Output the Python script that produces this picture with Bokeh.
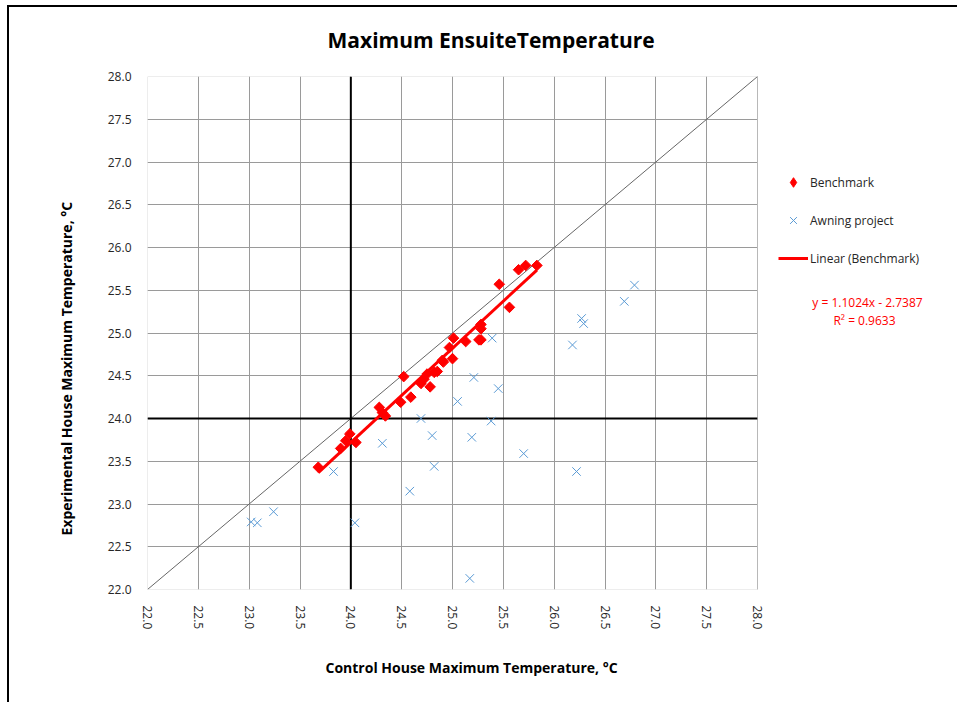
import math
from bokeh.plotting import figure
from bokeh.models import (Range1d, FixedTicker, PrintfTickFormatter, Span, Slope,
                          Legend, LegendItem, Label, Title, BoxAnnotation)
from bokeh.embed import file_html
from bokeh.resources import INLINE

# ---------------- data ----------------
bench_x = [23.68, 23.90, 23.95, 23.99, 24.05, 24.28, 24.31, 24.34, 24.49, 24.52,
           24.59, 24.69, 24.72, 24.75, 24.78, 24.82, 24.85, 24.90, 24.91, 25.00,
           24.97, 25.01, 25.13, 25.26, 25.28, 25.28, 25.28, 25.46, 25.56, 25.65,
           25.72, 25.83]
bench_y = [23.43, 23.65, 23.74, 23.82, 23.72, 24.13, 24.07, 24.03, 24.19, 24.49,
           24.25, 24.41, 24.46, 24.52, 24.37, 24.54, 24.55, 24.68, 24.66, 24.70,
           24.83, 24.94, 24.90, 24.92, 24.92, 25.05, 25.10, 25.57, 25.30, 25.74,
           25.79, 25.79]

awn_x = [23.02, 23.08, 23.24, 23.83, 24.04, 24.31, 24.58, 24.69, 24.80, 24.82,
         25.05, 25.17, 25.21, 25.19, 25.45, 25.38, 25.70, 26.22, 25.39, 26.79,
         26.69, 26.27, 26.29, 26.18]
awn_y = [22.79, 22.78, 22.91, 23.38, 22.78, 23.71, 23.15, 24.00, 23.80, 23.44,
         24.20, 22.13, 24.48, 23.78, 24.35, 23.97, 23.59, 23.38, 24.94, 25.56,
         25.37, 25.17, 25.11, 24.86]

trend_slope = 1.1024
trend_intercept = -2.7387
r_squared = 0.9633

axis_ticks = [22.0, 22.5, 23.0, 23.5, 24.0, 24.5, 25.0, 25.5, 26.0, 26.5, 27.0, 27.5, 28.0]
axis_min, axis_max = 22.0, 28.0
ref_value = 24.0

title_text = "Maximum EnsuiteTemperature"
x_label = "Control House Maximum Temperature, °C"
y_label = "Experimental House Maximum Temperature, °C"

FONT = "Open Sans"
RED = "#ff0000"
BLUE = "#5b9bd5"
GRID = "#9a9a9a"

# ---------------- layout (pixels) ----------------
FIG_W, FIG_H = 957, 702
PLOT_L, PLOT_T, PLOT_W, PLOT_H = 147, 76, 610, 513
# the frame is extended to the right edge so legend/equation are inside it
x_end = axis_min + (FIG_W - PLOT_L) * (axis_max - axis_min) / PLOT_W

border_css = ("linear-gradient(black, black) 7px 5px / 2px 100% no-repeat, "
              "linear-gradient(black, black) 7px 5px / 100% 2px no-repeat, white")

p = figure(width=FIG_W, height=FIG_H, output_backend="svg", toolbar_location=None,
           x_range=Range1d(axis_min, x_end), y_range=Range1d(axis_min, axis_max),
           min_border_left=PLOT_L, min_border_right=0, min_border_top=PLOT_T,
           min_border_bottom=FIG_H - PLOT_T - PLOT_H,
           styles={"background": border_css})
p.background_fill_color = "white"
p.border_fill_alpha = 0
p.outline_line_color = None

# title
p.title.text = title_text
p.title.align = "left"
p.title.offset = 180
p.title.vertical_align = "top"
p.title.standoff = 41
p.title.text_font = FONT
p.title.text_font_style = "bold"
p.title.text_font_size = "21px"
p.title.text_color = "black"

for ax in (p.xaxis[0], p.yaxis[0]):
    ax.ticker = FixedTicker(ticks=axis_ticks)
    ax.formatter = PrintfTickFormatter(format="%.1f")
    ax.major_tick_line_color = None
    ax.minor_tick_line_color = None
    ax.axis_line_color = None
    ax.major_label_text_font = FONT
    ax.major_label_text_font_size = "12px"
    ax.major_label_text_color = "#262626"
    ax.major_label_standoff = 10

p.xaxis[0].major_label_orientation = -math.pi / 2

for g in (p.xgrid[0], p.ygrid[0]):
    g.ticker = FixedTicker(ticks=axis_ticks)
    g.grid_line_color = GRID
    g.grid_line_width = 1

# axis titles as side-panel titles (precise placement)
p.add_layout(Title(text=x_label, align="left", offset=178, vertical_align="bottom",
                   standoff=47, text_font=FONT, text_font_style="bold",
                   text_font_size="14px", text_color="black"), "below")
p.add_layout(Title(text=y_label, align="left", offset=54, vertical_align="top",
                   standoff=53, text_font=FONT, text_font_style="bold",
                   text_font_size="14px", text_color="black"), "left")

# reference lines
p.add_layout(Slope(gradient=1, y_intercept=0, line_color="#666666", line_width=1,
                   level="underlay"))
p.add_layout(Span(location=ref_value, dimension="height", line_color="black",
                  line_width=2, level="underlay"))
p.add_layout(Span(location=ref_value, dimension="width", line_color="black",
                  line_width=2, level="underlay"))

# data
r_awn = p.scatter(awn_x, awn_y, marker="x", size=12, line_color=BLUE, line_width=1)
tx = [min(bench_x), max(bench_x)]
ty = [trend_slope * v + trend_intercept for v in tx]
# diamond key for the legend (sits hidden under the first benchmark marker;
# legend glyphs ignore the marker angle used below)
r_bench_key = p.scatter(bench_x[:1], bench_y[:1], marker="diamond", size=9,
                        fill_color=RED, line_color=RED)
r_bench = p.scatter(bench_x, bench_y, marker="square", angle=math.pi / 4, size=7.5,
                    fill_color=RED, line_color=RED)
r_trend = p.line(tx, ty, line_color=RED, line_width=3)

# white mask right of the plot area, then plot-area outline
p.add_layout(BoxAnnotation(left=axis_max, fill_color="white", fill_alpha=1,
                           line_alpha=0, level="annotation"))
p.add_layout(BoxAnnotation(left=axis_min, right=axis_max, bottom=axis_min, top=axis_max,
                           fill_alpha=0, line_color="#888888", line_width=1,
                           level="overlay"))

legend = Legend(items=[LegendItem(label="Benchmark", renderers=[r_bench_key]),
                       LegendItem(label="Awning project", renderers=[r_awn]),
                       LegendItem(label="Linear (Benchmark)", renderers=[r_trend])],
                location=(631, 319), padding=0, margin=0, spacing=14,
                label_height=24, glyph_height=24, glyph_width=30, label_standoff=2,
                border_line_color=None, background_fill_alpha=0,
                label_text_font=FONT, label_text_font_size="12px",
                label_text_color="#262626", level="overlay")
p.add_layout(legend, "center")

p.add_layout(Label(x=720, y=287, x_units="screen", y_units="screen",
                   text=f"y = {trend_slope:.4f}x - {abs(trend_intercept):.4f}",
                   text_font=FONT, text_font_size="12px", text_color=RED,
                   text_align="center", text_baseline="middle", level="overlay"))
p.add_layout(Label(x=717, y=269, x_units="screen", y_units="screen",
                   text=f"R² = {r_squared:.4f}",
                   text_font=FONT, text_font_size="12px", text_color=RED,
                   text_align="center", text_baseline="middle", level="overlay"))

open("out.html", "w").write(file_html(p, INLINE))
